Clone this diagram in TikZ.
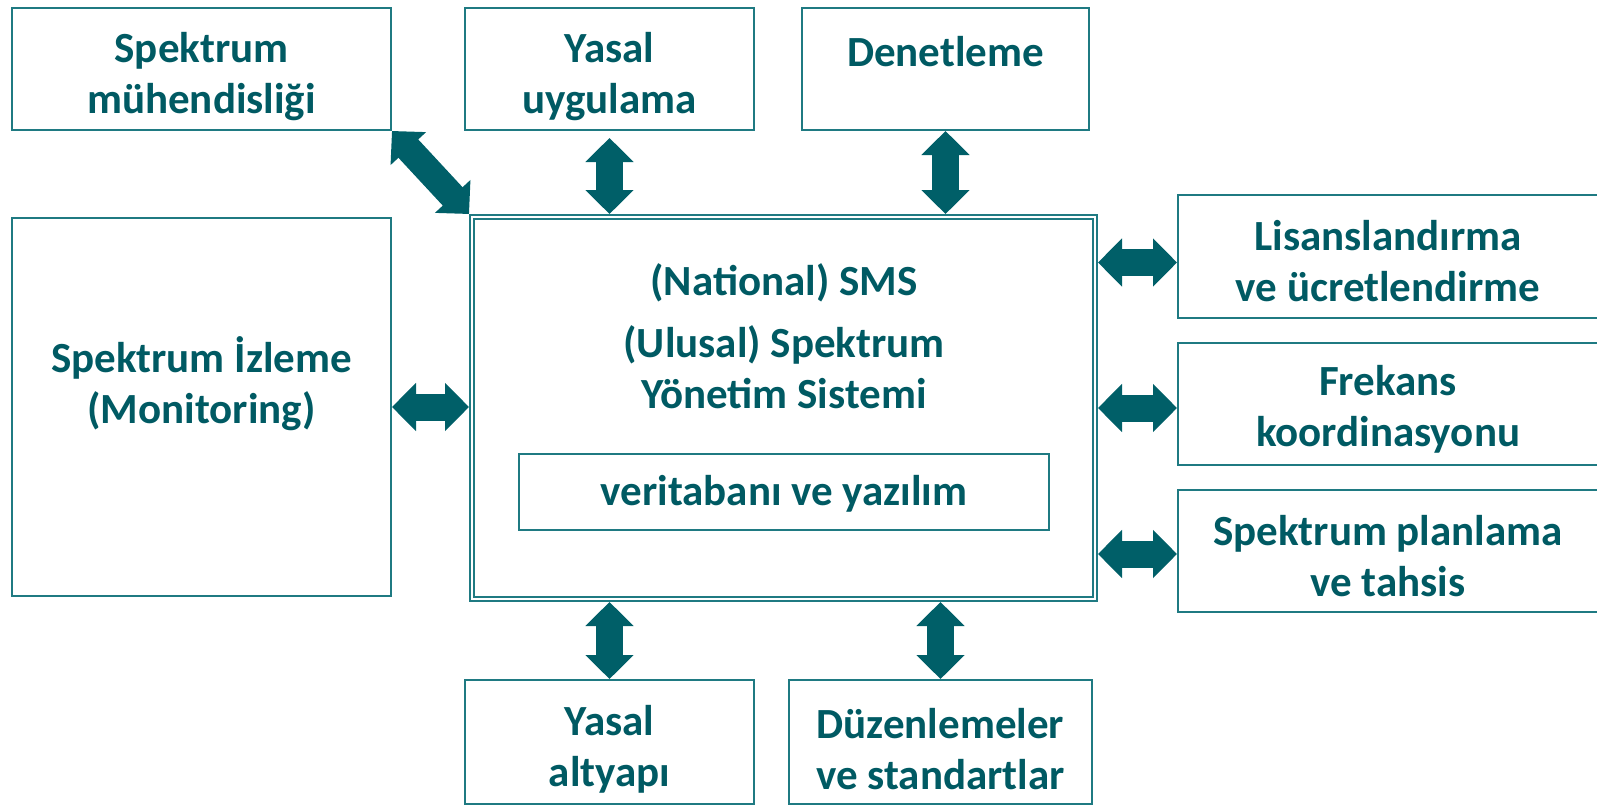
\documentclass[tikz,border=0pt]{standalone}
\usepackage{fontspec}
\setmainfont{Carlito}
\usetikzlibrary{arrows.meta,calc}

\definecolor{tealtext}{HTML}{005A63}
\definecolor{tealarrow}{HTML}{005F68}
\definecolor{tealline}{HTML}{1F7A82}

\tikzset{
  box/.style={draw=tealline, line width=2pt, inner sep=0pt},
  label/.style={inner sep=0pt, align=center, text=tealtext,
    font=\fontsize{43}{51}\selectfont\bfseries},
  link/.style={draw=tealarrow, line width=27pt,
    {Triangle[length=24pt,width=47pt]}-{Triangle[length=24pt,width=47pt]}}
}

\begin{document}
\begin{tikzpicture}[x=1pt,y=-1pt]
  \useasboundingbox (0,0) rectangle (1597,806);

  % The central system box (double frame)
  \node[box, minimum width=627pt, minimum height=386pt] (sms) at (783.5,408) {};
  \draw[tealline, line width=2pt] ($(sms.north west)+(5,5)$) rectangle ($(sms.south east)+(-5,-5)$);
  \node[label] (smsen) at (784,283) {(National) SMS};
  \node[label] (smstr) at (784,367) {(Ulusal) Spektrum\\Yönetim Sistemi};
  \node[box, minimum width=530pt, minimum height=76pt] (db) at (784,492) {};
  \node[label] (dblbl) at (784,494) {veritabanı ve yazılım};

  % Boxes on the top row
  \node[box, minimum width=379pt, minimum height=122pt] (eng) at (201.5,69) {};
  \node[box, minimum width=289pt, minimum height=122pt] (law) at (609.5,69) {};
  \node[box, minimum width=287pt, minimum height=122pt] (aud) at (945.5,69) {};
  \node[label] (englbl) at ($(eng)+(0,8)$) {Spektrum\\mühendisliği};
  \node[label] (lawlbl) at ($(law)+(0,8)$) {Yasal\\uygulama};
  \node[label] (audlbl) at ($(aud)+(0,8)$) {Denetleme\\~};

  % Box on the left
  \node[box, minimum width=379pt, minimum height=378pt] (mon) at (201.5,407) {};
  \node[label] (monlbl) at (201.5,384) {Spektrum İzleme\\(Monitoring)};

  % Boxes on the right
  \node[box, minimum width=420pt, minimum height=123pt] (lic) at (1388,256.5) {};
  \node[box, minimum width=420pt, minimum height=122pt] (frq) at (1388,404) {};
  \node[box, minimum width=420pt, minimum height=122pt] (plan) at (1388,551) {};
  \node[label] (liclbl) at ($(lic)+(0,5)$) {Lisanslandırma\\ve ücretlendirme};
  \node[label] (frqlbl) at ($(frq)+(0,5)$) {Frekans\\koordinasyonu};
  \node[label] (planlbl) at ($(plan)+(0,5)$) {Spektrum planlama\\ve tahsis};

  % Boxes on the bottom row
  \node[box, minimum width=289pt, minimum height=124pt] (lgl) at (609.5,742) {};
  \node[box, minimum width=303pt, minimum height=124pt] (std) at (940.5,742) {};
  \node[label] (lgllbl) at ($(lgl)+(0,7)$) {Yasal\\altyapı};
  \node[label] (stdlbl) at ($(std)+(0,7)$) {Düzenlemeler\\ve standartlar};

  % Draw the links
  \draw[link] (eng.south east) -- (sms.north west);
  \draw[link, shorten <=7pt] (law.south) -- (law.south |- sms.north);
  \draw[link] (aud.south) -- (aud.south |- sms.north);
  \draw[link] (mon.east) -- (mon.east -| sms.west);
  \draw[link] ([yshift=-6pt]lic.west) -- ([yshift=-6pt]lic.west -| sms.east);
  \draw[link] ([yshift=-4pt]frq.west) -- ([yshift=-4pt]frq.west -| sms.east);
  \draw[link] ([yshift=-3pt]plan.west) -- ([yshift=-3pt]plan.west -| sms.east);
  \draw[link] (lgl.north) -- (lgl.north |- sms.south);
  \draw[link] (std.north) -- (std.north |- sms.south);
\end{tikzpicture}
\end{document}
